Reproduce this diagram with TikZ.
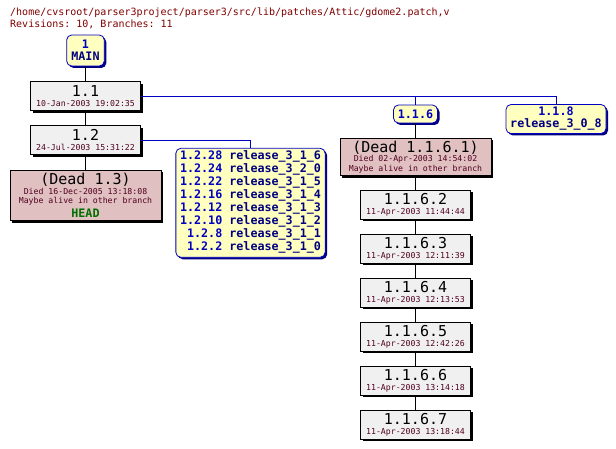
\documentclass[tikz,border=0pt]{standalone}
\usepackage{fontspec}
\setmonofont{DejaVu Sans Mono}
\usetikzlibrary{shadows}

\definecolor{titlered}{HTML}{800000}
\definecolor{datered}{HTML}{500020}
\definecolor{revgray}{HTML}{F0F0F0}
\definecolor{deadpink}{HTML}{E0C0C0}
\definecolor{branchyellow}{HTML}{FFFFC0}
\definecolor{branchblue}{HTML}{0000C0}
\definecolor{tagnavy}{HTML}{000080}
\definecolor{headgreen}{HTML}{007000}

% revision number over its date
\newcommand{\revtext}[2]{{\fontsize{15}{15}\selectfont #1}\\{\color{datered}#2}}
% big title of a dead revision
\newcommand{\deadtitle}[1]{{\fontsize{15}{15}\selectfont #1}}

\begin{document}
\begin{tikzpicture}[x=1pt, y=-1pt, font=\ttfamily,
  revbox/.style={draw=black, fill=revgray, line width=0.8pt,
    minimum width=110pt, minimum height=29pt, inner sep=0pt, align=center,
    font=\ttfamily\fontsize{8.2}{10}\selectfont,
    drop shadow={shadow xshift=2pt, shadow yshift=-2pt, fill=black, opacity=1}},
  deadbox/.style={revbox, fill=deadpink, minimum width=151pt,
    font=\ttfamily\fontsize{8.2}{9.5}\selectfont},
  brbox/.style={draw=branchblue, fill=branchyellow, line width=0.8pt,
    rounded corners=5pt, inner sep=0pt, align=center, text=branchblue,
    font=\ttfamily\bfseries\fontsize{11.7}{12}\selectfont,
    drop shadow={shadow xshift=2pt, shadow yshift=-2pt, fill=tagnavy, opacity=1}},
  trunk/.style={draw=black, line width=0.8pt},
  brline/.style={draw=branchblue, line width=0.8pt},
  titletext/.style={anchor=base west, inner sep=0pt, text=titlered,
    font=\ttfamily\fontsize{10}{12}\selectfont}]

  \useasboundingbox (0,0) rectangle (616,449);

  % Header
  \node[titletext] (path) at (10,16) {/home/cvsroot/parser3project/parser3/src/lib/patches/Attic/gdome2.patch,v};
  \node[titletext] (counts) at (10,28) {Revisions: 10, Branches: 11};

  % Main trunk
  \node[brbox, minimum width=37.6pt, minimum height=31pt] (main) at (85.5,50.5) {1\\{\color{tagnavy}MAIN}};
  \node[revbox] (r11) at (85.5,96.3) {\revtext{1.1}{10-Jan-2003 19:02:35}};
  \node[revbox] (r12) at (85.5,140.2) {\revtext{1.2}{24-Jul-2003 15:31:22}};
  \node[deadbox, minimum height=50.7pt] (dead13) at (85.5,195.3)
    {\deadtitle{(Dead 1.3)}\\{\color{datered}Died 16-Dec-2005 13:18:08}\\{\color{datered}Maybe alive in other branch}\\[2pt]{\fontsize{11.7}{12}\selectfont\bfseries\color{headgreen}HEAD}};

  % Folded branches of 1.2
  \node[brbox, minimum width=149.3pt, minimum height=109pt, font=\ttfamily\bfseries\fontsize{11.7}{13}\selectfont] (rel12) at (250.5,202.8)
    {\begin{tabular}{@{}r@{\ }l@{}}
      1.2.28 & \color{tagnavy}release\_3\_1\_6\\
      1.2.24 & \color{tagnavy}release\_3\_2\_0\\
      1.2.22 & \color{tagnavy}release\_3\_1\_5\\
      1.2.16 & \color{tagnavy}release\_3\_1\_4\\
      1.2.12 & \color{tagnavy}release\_3\_1\_3\\
      1.2.10 & \color{tagnavy}release\_3\_1\_2\\
      1.2.8 & \color{tagnavy}release\_3\_1\_1\\
      1.2.2 & \color{tagnavy}release\_3\_1\_0
    \end{tabular}};

  % Branches of 1.1
  \node[brbox, minimum width=44pt, minimum height=18pt] (b116) at (415.5,114) {1.1.6};
  \node[brbox, minimum width=100pt, minimum height=29pt] (b118) at (556,119) {1.1.8\\{\color{tagnavy}release\_3\_0\_8}};

  % Revisions on branch 1.1.6
  \node[deadbox, minimum height=37.7pt] (dead1161) at (415.5,157)
    {\deadtitle{(Dead 1.1.6.1)}\\{\color{datered}Died 02-Apr-2003 14:54:02}\\{\color{datered}Maybe alive in other branch}};
  \node[revbox] (r1162) at (415.5,204.7) {\revtext{1.1.6.2}{11-Apr-2003 11:44:44}};
  \node[revbox] (r1163) at (415.5,248.7) {\revtext{1.1.6.3}{11-Apr-2003 12:11:39}};
  \node[revbox] (r1164) at (415.5,292.7) {\revtext{1.1.6.4}{11-Apr-2003 12:13:53}};
  \node[revbox] (r1165) at (415.5,336.7) {\revtext{1.1.6.5}{11-Apr-2003 12:42:26}};
  \node[revbox] (r1166) at (415.5,380.7) {\revtext{1.1.6.6}{11-Apr-2003 13:14:18}};
  \node[revbox] (r1167) at (415.5,424.7) {\revtext{1.1.6.7}{11-Apr-2003 13:18:44}};

  % Trunk connectors
  \draw[trunk] (main) -- (r11);
  \draw[trunk] (r11) -- (r12);
  \draw[trunk] (r12) -- (dead13);

  % Branch connectors
  \draw[brline] (r11.east) -| (b118.north);
  \draw[brline] (r11.east) -| (b116.north);
  \draw[brline] (r12.east) -| (rel12.north);

  % Branch 1.1.6 connectors
  \draw[trunk] (b116) -- (dead1161);
  \draw[trunk] (dead1161) -- (r1162);
  \draw[trunk] (r1162) -- (r1163);
  \draw[trunk] (r1163) -- (r1164);
  \draw[trunk] (r1164) -- (r1165);
  \draw[trunk] (r1165) -- (r1166);
  \draw[trunk] (r1166) -- (r1167);
\end{tikzpicture}
\end{document}
